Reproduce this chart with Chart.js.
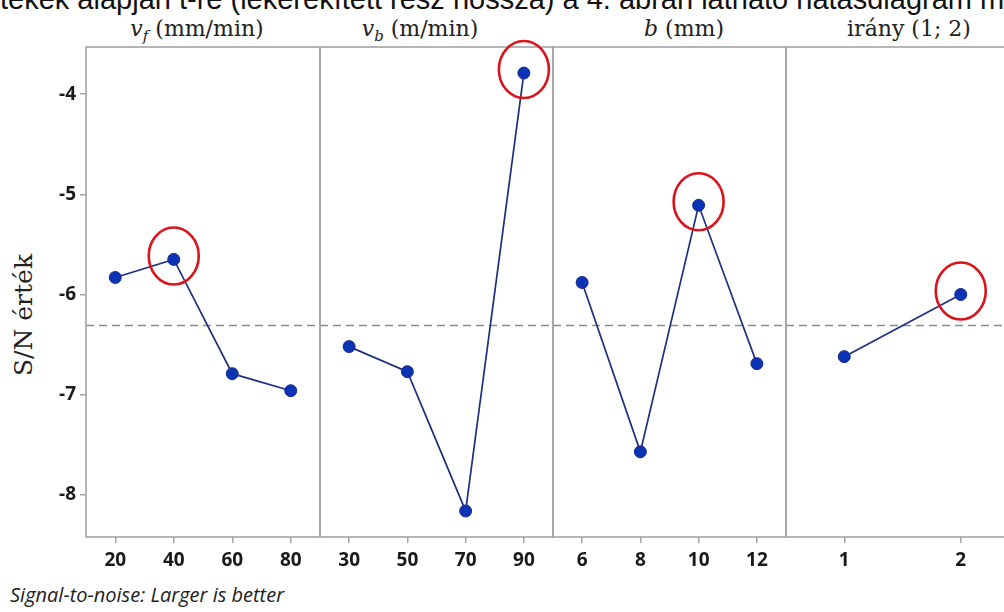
<!DOCTYPE html>
<html>
<head>
<meta charset="utf-8">
<script src="https://cdn.jsdelivr.net/npm/chart.js@4.4.1/dist/chart.umd.min.js"></script>
<style>
  html, body { margin: 0; padding: 0; background: #fff; }
  #wrap { position: relative; width: 1004px; height: 612px; overflow: hidden; }
  .panel { position: absolute; top: 0; height: 580px; }
  .ptitle { position: absolute; top: 17px; line-height: 24px; font-family: "DejaVu Serif", serif; font-size: 22px; color: #222; white-space: nowrap; transform: translateX(-50%); }
  #toptext { position: absolute; left: 0; top: -17px; font-family: "Liberation Sans", Arial, sans-serif; font-size: 29px; color: #111; white-space: nowrap; }
  #ytitle { position: absolute; left: 23px; top: 315px; transform: translate(-50%, -50%) rotate(-90deg); font-family: "DejaVu Serif", serif; font-size: 25px; color: #222; white-space: nowrap; }
  #footer { position: absolute; left: 10px; top: 581px; font-family: "Open Sans", sans-serif; font-style: italic; font-size: 20px; color: #222; white-space: nowrap; }
</style>
</head>
<body>
<div id="wrap">
  <div id="toptext">tékek alapján t-re (lekerekített rész hossza) a 4. ábrán látható hatásdiagram mutatja</div>
  <div class="ptitle" style="left:197px"><i>v<sub style="font-size:15px;line-height:0">f</sub></i> (mm/min)</div>
  <div class="ptitle" style="left:420px"><i>v<sub style="font-size:15px;line-height:0">b</sub></i> (m/min)</div>
  <div class="ptitle" style="left:684px"><i>b</i> (mm)</div>
  <div class="ptitle" style="left:909px">irány (1; 2)</div>
  <div id="ytitle">S/N érték</div>
  <div class="panel" style="left:0;width:322px"><canvas id="c1"></canvas></div>
  <div class="panel" style="left:318px;width:237px"><canvas id="c2"></canvas></div>
  <div class="panel" style="left:551px;width:237px"><canvas id="c3"></canvas></div>
  <div class="panel" style="left:784px;width:237px"><canvas id="c4"></canvas></div>
  <div id="footer">Signal-to-noise: Larger is better</div>
</div>
<script>
// adatok (S/N értékek faktoronként)
const vfLabels = ["20", "40", "60", "80"];
const vfValues = [-5.83, -5.65, -6.79, -6.96];

const vbLabels = ["30", "50", "70", "90"];
const vbValues = [-6.52, -6.77, -8.16, -3.79];

const bLabels = ["6", "8", "10", "12"];
const bValues = [-5.88, -7.57, -5.11, -6.69];

const iranyLabels = ["1", "2"];
const iranyValues = [-6.62, -6.00];

const yTicks = [-4, -5, -6, -7, -8];
const yMin = -8.42, yMax = -3.53;

// átlag - szaggatott vonal
const allValues = vfValues.concat(vbValues, bValues, iranyValues);
const mean = allValues.reduce((a, b) => a + b, 0) / allValues.length;

const frameColor = "#a3a3a3";

// keret + átlagvonal + piros kör a legjobb szinten
const panelPlugin = {
  id: "panelPlugin",
  beforeDatasetsDraw(chart) {
    const ctx = chart.ctx;
    const a = chart.chartArea;
    const y = chart.scales.y.getPixelForValue(mean);
    ctx.save();
    ctx.strokeStyle = "#8c8c8c";
    ctx.lineWidth = 1.5;
    ctx.setLineDash([8, 5]);
    ctx.beginPath();
    ctx.moveTo(a.left, y);
    ctx.lineTo(a.right, y);
    ctx.stroke();
    ctx.setLineDash([]);
    ctx.strokeStyle = frameColor;
    ctx.lineWidth = 1.6;
    ctx.strokeRect(a.left, a.top, a.right - a.left, a.bottom - a.top);
    ctx.restore();
  },
  afterDatasetsDraw(chart) {
    const data = chart.data.datasets[0].data;
    const best = data.indexOf(Math.max(...data));
    const pt = chart.getDatasetMeta(0).data[best];
    const ctx = chart.ctx;
    ctx.save();
    ctx.strokeStyle = "#d9141c";
    ctx.lineWidth = 2.6;
    ctx.beginPath();
    ctx.ellipse(pt.x, pt.y - 3.5, 25, 28.5, 0, 0, Math.PI * 2);
    ctx.stroke();
    ctx.restore();
  }
};

const tickFont = { family: "Open Sans", size: 19, weight: "bold" };

function makePanel(id, labels, values, first) {
  const ctx = document.getElementById(id).getContext("2d");
  return new Chart(ctx, {
    type: "line",
    data: {
      labels: labels,
      datasets: [{
        data: values,
        borderColor: "#1e2f82",
        borderWidth: 1.7,
        pointRadius: 6,
        pointBackgroundColor: "#0b33b5",
        pointBorderColor: "#1a2a85",
        pointBorderWidth: 1,
        tension: 0
      }]
    },
    options: {
      responsive: true,
      maintainAspectRatio: false,
      animation: false,
      layout: { autoPadding: false, padding: { top: 47, left: first ? 0 : 2, right: 2, bottom: 0 } },
      plugins: { legend: { display: false }, tooltip: { enabled: false } },
      scales: {
        x: {
          offset: true,
          border: { display: false },
          grid: { drawOnChartArea: false, drawTicks: true, tickLength: 6, color: frameColor, lineWidth: 1.5, offset: false },
          ticks: { color: "#1a1a1a", padding: 6, maxRotation: 0, font: tickFont },
          afterFit: (s) => { s.height = 43; s.paddingLeft = 0; s.paddingRight = 0; }
        },
        y: {
          display: first,
          min: yMin,
          max: yMax,
          border: { display: false },
          afterBuildTicks: (s) => { s.ticks = yTicks.map(v => ({ value: v })); },
          grid: { drawOnChartArea: false, drawTicks: true, tickLength: 6, color: frameColor, lineWidth: 1.5 },
          ticks: { color: "#1a1a1a", padding: 4, font: tickFont },
          afterFit: (s) => { if (first) { s.width = 86; s.paddingTop = 0; s.paddingBottom = 0; } }
        }
      }
    },
    plugins: [panelPlugin]
  });
}

makePanel("c1", vfLabels, vfValues, true);
makePanel("c2", vbLabels, vbValues, false);
makePanel("c3", bLabels, bValues, false);
makePanel("c4", iranyLabels, iranyValues, false);
</script>
</body>
</html>
